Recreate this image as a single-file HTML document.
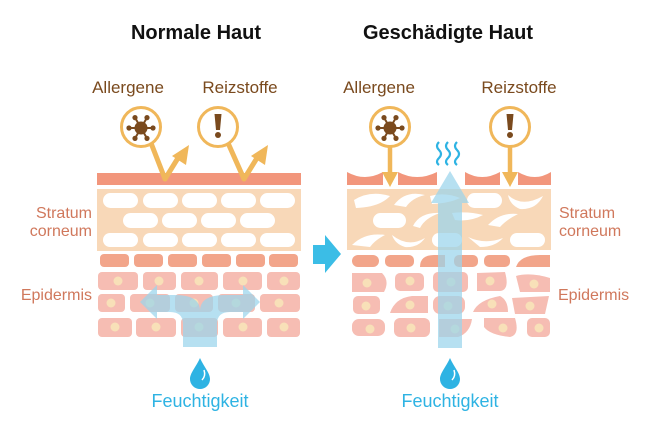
<!DOCTYPE html>
<html><head><meta charset="utf-8"><style>
html,body{margin:0;padding:0;background:#fff;}
svg{display:block;}
text{font-family:"Liberation Sans","DejaVu Sans",sans-serif;}
</style></head><body>
<svg width="650" height="427" viewBox="0 0 650 427" xmlns="http://www.w3.org/2000/svg">
<defs>
<g id="virus">
  <g stroke="#7a4a1e" stroke-width="2">
    <line x1="0" y1="0" x2="12" y2="0"/><line x1="0" y1="0" x2="-12" y2="0"/>
    <line x1="0" y1="0" x2="6" y2="10.4"/><line x1="0" y1="0" x2="-6" y2="10.4"/>
    <line x1="0" y1="0" x2="6" y2="-10.4"/><line x1="0" y1="0" x2="-6" y2="-10.4"/>
  </g>
  <g fill="#7a4a1e">
    <circle r="6.5"/><circle cx="12" r="2.6"/><circle cx="-12" r="2.6"/>
    <circle cx="6" cy="10.4" r="2.6"/><circle cx="-6" cy="10.4" r="2.6"/>
    <circle cx="6" cy="-10.4" r="2.6"/><circle cx="-6" cy="-10.4" r="2.6"/>
  </g>
</g>
<g id="excl">
  <path d="M-3.5,-12 L3.5,-12 L2,4 L-2,4 Z" fill="#7a4a1e"/>
  <circle cy="9" r="3" fill="#7a4a1e"/>
</g>
<path id="drop" d="M0,-15 C4,-6 10,0 10,6 A10,10 0 0 1 -10,6 C-10,0 -4,-6 0,-15 Z"/>
</defs>

<text x="196" y="39" font-size="20" font-weight="bold" text-anchor="middle" fill="#111">Normale Haut</text>
<text x="448" y="39" font-size="20" font-weight="bold" text-anchor="middle" fill="#111">Geschädigte Haut</text>

<g font-size="17" fill="#7a4a1e">
<text x="128" y="93" text-anchor="middle">Allergene</text>
<text x="240" y="93" text-anchor="middle">Reizstoffe</text>
<text x="379" y="93" text-anchor="middle">Allergene</text>
<text x="519" y="93" text-anchor="middle">Reizstoffe</text>
</g>

<g font-size="16" fill="#d0785c">
<text x="92" y="218" text-anchor="end">Stratum</text>
<text x="92" y="236" text-anchor="end">corneum</text>
<text x="92" y="300" text-anchor="end">Epidermis</text>
<text x="559" y="218">Stratum</text>
<text x="559" y="236">corneum</text>
<text x="558" y="300">Epidermis</text>
</g>

<!-- LEFT -->
<rect x="97" y="173" width="204" height="12" fill="#f2967c"/>
<rect x="97" y="189" width="204" height="62" fill="#f8d8b8"/>
<g fill="#fff">
  <rect x="103" y="193" width="35" height="15" rx="7.5"/><rect x="143" y="193" width="35" height="15" rx="7.5"/>
  <rect x="182" y="193" width="35" height="15" rx="7.5"/><rect x="221" y="193" width="35" height="15" rx="7.5"/>
  <rect x="260" y="193" width="35" height="15" rx="7.5"/>
  <rect x="123" y="213" width="35" height="15" rx="7.5"/><rect x="162" y="213" width="35" height="15" rx="7.5"/>
  <rect x="201" y="213" width="35" height="15" rx="7.5"/><rect x="240" y="213" width="35" height="15" rx="7.5"/>
  <rect x="103" y="233" width="35" height="14" rx="7"/><rect x="143" y="233" width="35" height="14" rx="7"/>
  <rect x="182" y="233" width="35" height="14" rx="7"/><rect x="221" y="233" width="35" height="14" rx="7"/>
  <rect x="260" y="233" width="35" height="14" rx="7"/>
</g>
<g fill="#f2a58a">
  <rect x="100" y="254" width="29" height="13" rx="4"/><rect x="134" y="254" width="29" height="13" rx="4"/>
  <rect x="168" y="254" width="29" height="13" rx="4"/><rect x="202" y="254" width="29" height="13" rx="4"/>
  <rect x="236" y="254" width="29" height="13" rx="4"/><rect x="269" y="254" width="29" height="13" rx="4"/>
</g>
<g fill="#f6bdb3">
  <rect x="98" y="272" width="40" height="18" rx="4"/><rect x="143" y="272" width="33" height="18" rx="4"/>
  <rect x="181" y="272" width="37" height="18" rx="4"/><rect x="223" y="272" width="39" height="18" rx="4"/>
  <rect x="267" y="272" width="33" height="18" rx="4"/>
  <rect x="98" y="294" width="27" height="18" rx="4"/><rect x="130" y="294" width="40" height="18" rx="4"/>
  <rect x="175" y="294" width="38" height="18" rx="4"/><rect x="218" y="294" width="37" height="18" rx="4"/>
  <rect x="260" y="294" width="40" height="18" rx="4"/>
  <rect x="98" y="318" width="34" height="19" rx="4"/><rect x="136" y="318" width="40" height="19" rx="4"/>
  <rect x="181" y="318" width="37" height="19" rx="4"/><rect x="223" y="318" width="39" height="19" rx="4"/>
  <rect x="267" y="318" width="33" height="19" rx="4"/>
</g>
<g fill="#f8e0b8">
  <circle cx="118" cy="281" r="4.5"/><circle cx="159" cy="281" r="4.5"/><circle cx="199" cy="281" r="4.5"/>
  <circle cx="243" cy="281" r="4.5"/><circle cx="284" cy="281" r="4.5"/>
  <circle cx="111" cy="303" r="4.5"/><circle cx="150" cy="303" r="4.5"/><circle cx="194" cy="303" r="4.5"/>
  <circle cx="236" cy="303" r="4.5"/><circle cx="279" cy="303" r="4.5"/>
  <circle cx="115" cy="327" r="4.5"/><circle cx="156" cy="327" r="4.5"/><circle cx="199" cy="327" r="4.5"/>
  <circle cx="243" cy="327" r="4.5"/><circle cx="284" cy="327" r="4.5"/>
</g>
<path d="M183,347 L183,324 Q183,312 170,312 L157,312 L157,319 L140,302 L157,285 L157,295 L175,295 Q200,295 200,311 Q200,295 225,295 L243,295 L243,285 L260,302 L243,319 L243,312 L230,312 Q217,312 217,324 L217,347 Z" fill="#9ad4ec" opacity="0.72"/>

<g stroke="#f0b75a" stroke-width="5" fill="none" stroke-linejoin="round">
  <polyline points="151,143 165,179 178,158"/>
  <polyline points="228,143 244,179 257,158"/>
</g>
<g fill="#f0b75a">
  <path d="M172,156 L189,145 L186,165 Z"/>
  <path d="M251,156 L268,145 L265,165 Z"/>
</g>
<circle cx="141" cy="127" r="19.5" fill="#fff" stroke="#f0b75a" stroke-width="3"/>
<circle cx="218" cy="127" r="19.5" fill="#fff" stroke="#f0b75a" stroke-width="3"/>
<use href="#virus" x="141" y="128"/>
<use href="#excl" x="218" y="126"/>

<use href="#drop" x="200" y="373" fill="#2eb3e3"/>
<path d="M204,370 Q206,376 202,380" stroke="#fff" stroke-width="1.5" fill="none"/>
<text x="200" y="407" font-size="18" text-anchor="middle" fill="#2eb3e3">Feuchtigkeit</text>

<path d="M313,245 L325,245 L325,235 L341,254 L325,273 L325,264 L313,264 Z" fill="#3bbde6"/>

<!-- RIGHT -->
<g fill="#f2967c">
  <path d="M347,172 Q365,182 383,172 L383,185 L347,185 Z"/>
  <path d="M398,172 Q417,182 437,172 L437,185 L398,185 Z"/>
  <path d="M465,172 Q482,182 500,172 L500,185 L465,185 Z"/>
  <path d="M518,172 Q535,182 551,172 L551,185 L518,185 Z"/>
</g>
<rect x="347" y="189" width="204" height="61" fill="#f8d8b8"/>
<g fill="#fff">
  <path d="M354,200 Q370,190 390,196 Q380,207 356,208 Z"/>
  <path d="M394,205 Q405,190 425,195 Q412,198 406,207 Z"/>
  <path d="M430,196 Q445,192 460,198 Q450,203 432,204 Z"/>
  <rect x="467" y="193" width="35" height="15" rx="7.5"/>
  <path d="M508,195 Q522,208 543,196 Q536,210 520,209 Q510,205 508,195 Z"/>
  <rect x="373" y="213" width="33" height="15" rx="7.5"/>
  <path d="M413,226 Q420,212 440,213 Q425,218 420,228 Z"/>
  <path d="M452,213 Q468,211 483,215 Q470,222 455,220 Z"/>
  <path d="M488,225 Q500,212 518,214 Q506,220 500,227 Z"/>
  <path d="M352,245 Q365,232 385,235 Q375,240 370,247 Z"/>
  <path d="M392,235 Q408,248 425,238 Q418,248 405,247 Q395,244 392,235 Z"/>
  <rect x="432" y="233" width="30" height="14" rx="7"/>
  <path d="M468,237 Q485,245 503,238 Q495,247 480,247 Z"/>
  <rect x="510" y="233" width="35" height="14" rx="7"/>
</g>
<g fill="#f2a58a">
  <rect x="352" y="255" width="27" height="12" rx="6"/><rect x="385" y="255" width="29" height="12" rx="5"/>
  <path d="M420,267 Q420,255 434,255 L445,255 L445,267 Z"/>
  <rect x="454" y="255" width="24" height="12" rx="5"/><rect x="484" y="255" width="26" height="12" rx="5"/>
  <path d="M516,267 Q520,255 540,255 L550,255 L550,267 Z"/>
</g>
<g fill="#f6bdb3">
  <path d="M352,273 L382,273 Q390,281 384,292 L352,292 Z"/>
  <rect x="395" y="273" width="29" height="18" rx="5"/>
  <rect x="433" y="272" width="35" height="20" rx="5"/>
  <path d="M477,273 L505,272 Q510,290 500,291 L477,291 Z"/>
  <path d="M516,276 Q530,272 550,278 L550,292 L520,292 Z"/>
  <rect x="353" y="296" width="27" height="18" rx="5"/>
  <path d="M390,313 Q395,298 412,296 L428,296 L428,313 Z"/>
  <rect x="433" y="296" width="32" height="18" rx="7"/>
  <path d="M473,312 Q478,300 500,296 Q508,300 508,312 Z"/>
  <path d="M512,298 L549,296 L545,314 L515,314 Z"/>
  <rect x="352" y="319" width="33" height="17" rx="7"/>
  <rect x="394" y="318" width="36" height="19" rx="6"/>
  <path d="M439,319 L472,319 Q470,333 458,337 L439,337 Z"/>
  <path d="M484,318 L515,318 Q520,335 510,337 Q490,335 484,327 Z"/>
  <rect x="527" y="318" width="23" height="19" rx="5"/>
</g>
<g fill="#f8e0b8">
  <circle cx="367" cy="283" r="4.5"/><circle cx="410" cy="281" r="4.5"/><circle cx="451" cy="282" r="4.5"/>
  <circle cx="490" cy="281" r="4.5"/><circle cx="534" cy="284" r="4.5"/>
  <circle cx="366" cy="306" r="4.5"/><circle cx="410" cy="305" r="4.5"/><circle cx="448" cy="306" r="4.5"/>
  <circle cx="492" cy="304" r="4.5"/><circle cx="530" cy="306" r="4.5"/>
  <circle cx="370" cy="329" r="4.5"/><circle cx="411" cy="328" r="4.5"/><circle cx="455" cy="329" r="4.5"/>
  <circle cx="503" cy="328" r="4.5"/><circle cx="539" cy="328" r="4.5"/>
</g>
<path d="M438,348 L438,203 L431,203 L450,171 L469,203 L462,203 L462,348 Z" fill="#9ad4ec" opacity="0.72"/>

<g stroke="#2eb3e3" stroke-width="2.2" fill="none">
  <path d="M439,142 q-4,4 0,8 q4,4 0,8 q-4,4 0,7"/>
  <path d="M448,142 q-4,4 0,8 q4,4 0,8 q-4,4 0,7"/>
  <path d="M457,142 q-4,4 0,8 q4,4 0,8 q-4,4 0,7"/>
</g>

<g stroke="#f0b75a" stroke-width="4.5">
  <line x1="390" y1="145" x2="390" y2="175"/>
  <line x1="510" y1="145" x2="510" y2="175"/>
</g>
<g fill="#f0b75a">
  <path d="M382,172 L398,172 L390,187 Z"/>
  <path d="M502,172 L518,172 L510,187 Z"/>
</g>
<circle cx="390" cy="127" r="19.5" fill="#fff" stroke="#f0b75a" stroke-width="3"/>
<circle cx="510" cy="127" r="19.5" fill="#fff" stroke="#f0b75a" stroke-width="3"/>
<use href="#virus" x="390" y="128"/>
<use href="#excl" x="510" y="126"/>

<use href="#drop" x="450" y="373" fill="#2eb3e3"/>
<path d="M454,370 Q456,376 452,380" stroke="#fff" stroke-width="1.5" fill="none"/>
<text x="450" y="407" font-size="18" text-anchor="middle" fill="#2eb3e3">Feuchtigkeit</text>
</svg>
</body></html>
